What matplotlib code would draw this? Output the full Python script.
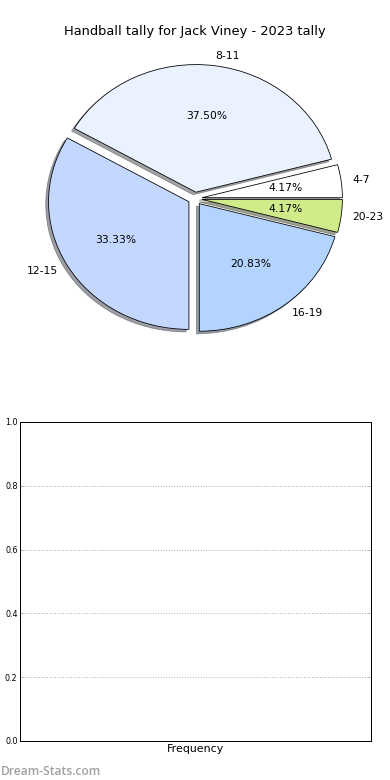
import matplotlib
matplotlib.use('Agg')
import matplotlib.pyplot as plt

# tally data
labels = ['4-7', '8-11', '12-15', '16-19', '20-23']
counts = [1, 9, 8, 5, 1]
colors = ['#ffffff', '#eaf1ff', '#c4d8ff', '#b3d4ff', '#cfeb8a']
explode = [0.05, 0.05, 0.05, 0.05, 0.05]

bar_cats = ['Frequency']
y_ticks = [0.0, 0.2, 0.4, 0.6, 0.8, 1.0]

fig, (ax1, ax2) = plt.subplots(2, 1, figsize=(390/72, 780/72), dpi=72)
fig.subplots_adjust(left=0.05, right=0.95, top=0.95, bottom=0.05, hspace=0.2)

# pie
wedges, texts, autotexts = ax1.pie(counts, labels=labels, colors=colors, explode=explode,
                                   autopct='%.2f%%', shadow=True, startangle=0,
                                   labeldistance=1.08,
                                   wedgeprops={'edgecolor': 'black', 'linewidth': 0.8},
                                   textprops={'fontsize': 10.8})
ax1.set_aspect('auto')
ax1.set_xlim(-1.25, 1.25)
ax1.set_ylim(-1.25, 1.25)
ax1.set_title('Handball tally for Jack Viney - 2023 tally', fontsize=13, pad=4)

# empty frequency chart
ax2.set_xlim(0, 1)
ax2.set_ylim(0, 1)
ax2.set_xticks([0.5])
ax2.set_xticklabels(bar_cats, fontsize=11)
ax2.set_yticks(y_ticks)
ax2.set_yticklabels(['%.1f' % v for v in y_ticks], fontsize=8)
ax2.yaxis.grid(True, linestyle=':', color='#b0b0b0', linewidth=1)
ax2.tick_params(axis='y', direction='in', color='#b0b0b0', length=4, right=True, pad=2)
ax2.tick_params(axis='x', length=0, pad=3)
for s in ax2.spines.values():
    s.set_linewidth(1)

fig.text(0.002, 0.006, 'Dream-Stats.com', fontsize=12, color='#a0a0a0',
         family='Open Sans', weight='semibold')

plt.savefig('out.png', dpi=72)
